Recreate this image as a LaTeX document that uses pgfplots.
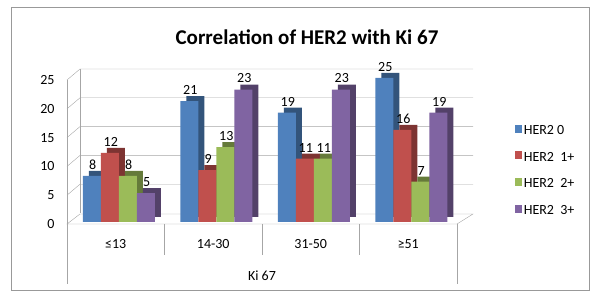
\documentclass[border=0pt]{standalone}
\usepackage{pgfplots}
\pgfplotsset{compat=1.18}
\usepackage{fontspec}
\setmainfont{Carlito}
\definecolor{s1}{HTML}{4F81BD}
\definecolor{s2}{HTML}{C0504D}
\definecolor{s3}{HTML}{9BBB59}
\definecolor{s4}{HTML}{8064A2}
\colorlet{d1}{s1!65!black}
\colorlet{d2}{s2!65!black}
\colorlet{d3}{s3!65!black}
\colorlet{d4}{s4!65!black}
\colorlet{gridc}{black!35}
\newcommand\lbl{\fontsize{14bp}{16bp}\selectfont}
\begin{document}
\begin{tikzpicture}
\useasboundingbox (0bp,0bp) rectangle (597bp,291bp);
\draw[black!40] (11bp,0.5bp) rectangle (589bp,283.5bp);
\node[font=\fontsize{21bp}{25bp}\selectfont\bfseries] at (307bp,254bp) {Correlation of HER2 with Ki 67};
\begin{axis}[
  at={(67bp,67bp)}, anchor=south west,
  scale only axis, width=390bp, height=144bp,
  xmin=-0.5, xmax=3.5, ymin=0, ymax=25,
  clip=false,
  axis line style={draw=none},
  major tick length=0pt,
  ytick={0,5,...,25},
  xtick={0,1,2,3},
  xticklabels={≤13, 14-30, 31-50, ≥51},
  /pgf/number format/assume math mode=true,
  ticklabel style={font=\lbl},
  yticklabel style={xshift=-9bp},
  xticklabel style={yshift=-12bp},
  ybar, bar width=18bp,
  nodes near coords,
  nodes near coords style={font=\lbl, anchor=south, yshift=3bp, xshift=1bp, text=black},
  legend style={at={(1.14,0.37)}, anchor=west, draw=none, fill=none, font=\lbl, row sep=12bp},
  legend cell align=left,
  legend image code/.code={\fill[#1] (0bp,-4bp) rectangle (7bp,4bp);},
]
% walls and floor
\pgfplotsinvokeforeach{5,10,15,20,25}{
  \draw[gridc] (axis cs:-0.5,#1) -- ++(13bp,11bp) -- ++(393bp,0bp);
}
\draw[gridc] (axis cs:-0.5,0) -- (axis cs:-0.5,25);
\draw[gridc] (axis cs:-0.5,0) ++(13bp,11bp) -- ++(0bp,144bp);
\draw[gridc] (axis cs:-0.5,0) -- (axis cs:3.5,0) -- ++(16bp,10bp) -- ++(-393bp,0bp) -- cycle;
% category separators
\pgfplotsinvokeforeach{0.5,1.5,2.5}{
  \draw[gridc] (axis cs:#1,0) -- ++(0bp,-31bp);
}
\draw[gridc] (axis cs:-0.5,0) -- ++(0bp,-60bp);
\draw[gridc] (axis cs:3.5,0) -- ++(0bp,-60bp);
\node[font=\lbl] at (axis cs:1.5,0) [yshift=-52bp] {Ki 67};
% depth (side/top faces)
\addplot[fill=d1, draw=none, forget plot, bar shift=-27bp, xshift=9bp, yshift=7bp, nodes near coords=] coordinates {(0,8) (1,21) (2,19) (3,25)};
\addplot[fill=d2, draw=none, forget plot, bar shift=-9bp, xshift=9bp, yshift=7bp, nodes near coords=] coordinates {(0,12) (1,9) (2,11) (3,16)};
\addplot[fill=d3, draw=none, forget plot, bar shift=9bp, xshift=9bp, yshift=7bp, nodes near coords=] coordinates {(0,8) (1,13) (2,11) (3,7)};
\addplot[fill=d4, draw=none, forget plot, bar shift=27bp, xshift=9bp, yshift=7bp, nodes near coords=] coordinates {(0,5) (1,23) (2,23) (3,19)};
% front faces
\addplot[fill=s1, draw=none, bar shift=-27bp, xshift=3bp, yshift=2bp] coordinates {(0,8) (1,21) (2,19) (3,25)};
\addplot[fill=s2, draw=none, bar shift=-9bp, xshift=3bp, yshift=2bp] coordinates {(0,12) (1,9) (2,11) (3,16)};
\addplot[fill=s3, draw=none, bar shift=9bp, xshift=3bp, yshift=2bp] coordinates {(0,8) (1,13) (2,11) (3,7)};
\addplot[fill=s4, draw=none, bar shift=27bp, xshift=3bp, yshift=2bp] coordinates {(0,5) (1,23) (2,23) (3,19)};
\legend{HER2 0, HER2~~1+, HER2~~2+, HER2~~3+}
\end{axis}
\end{tikzpicture}
\end{document}
